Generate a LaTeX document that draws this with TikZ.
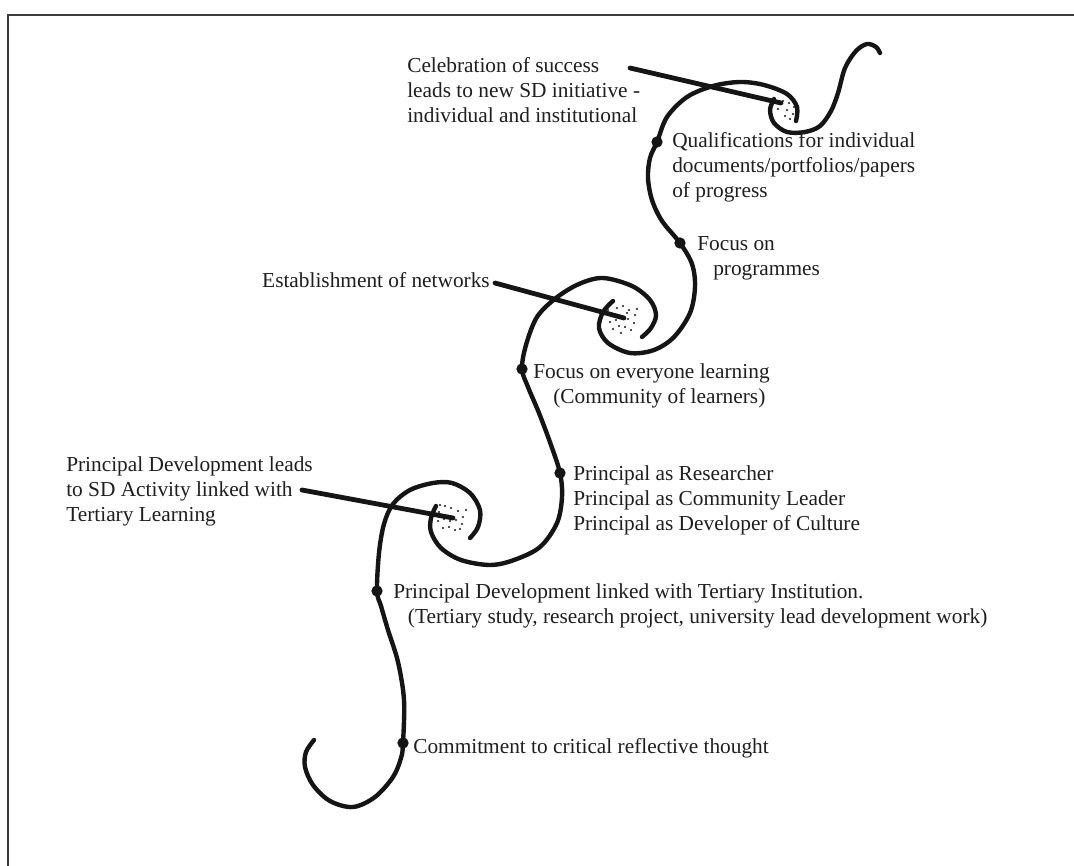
\documentclass[tikz,border=0pt]{standalone}
\usepackage{fontspec}
\setmainfont{Liberation Serif}
\definecolor{ink}{HTML}{151515}
\definecolor{txt}{HTML}{1E1E1E}
\definecolor{framegray}{HTML}{3A3A3A}
\begin{document}
\begin{tikzpicture}[x=0.75pt,y=-0.75pt,
  curve/.style={line width=3.3pt, draw=ink, line cap=round, line join=round},
  pointer/.style={line width=3.6pt, draw=ink, line cap=round},
  dot/.style={circle, fill=ink, inner sep=0pt, minimum size=8.5pt},
  lbl/.style={font=\fontsize{16}{18.75}\selectfont, text=txt, inner sep=0pt, align=left},
  frame/.style={line width=1.9pt, draw=framegray},
  speck/.style={fill=ink}]

\useasboundingbox (0,0) rectangle (1074,866);
\draw[frame] (8,866) -- (8,15) -- (1074,15);

% stations on the path
\coordinate (pC) at (403,743);
\coordinate (pP) at (377,591);
\coordinate (pR) at (560,473);
\coordinate (pE) at (522,369);
\coordinate (pF) at (680,243);
\coordinate (pQ) at (657,142);

% centres of the three spirals
\coordinate (cLow) at (453,518);
\coordinate (cMid) at (624,318);
\coordinate (cTop) at (781,103);

% speckles inside the spirals
\foreach \dx/\dy in {-12/-4,-7/-10,-1/-12,5/-8,11/-3,-14/4,-8/2,-2/-2,4/1,10/5,-11/11,-5/8,1/9,7/12,-3/15,13/-9,-16/-8,3/-5}
  \fill[speck, shift={(cMid)}] (\dx,\dy) circle (0.9pt);
\foreach \dx/\dy in {-14/-6,-8/-12,-2/-10,5/-7,10/-1,-15/3,-9/1,-3/3,3/2,9/6,-10/10,-4/9,2/12,7/11,-13/-13,13/-8}
  \fill[speck, shift={(cLow)}] (\dx,\dy) circle (0.9pt);
\foreach \dx/\dy in {2/-2,8/0,13/4,6/7,12/11,4/13,-3/6,9/16,15/9,0/1}
  \fill[speck, shift={(cTop)}] (\dx,\dy) circle (0.9pt);

% lowest hook, rising into the lower spiral
\draw[curve] plot[smooth, tension=0.55] coordinates {
  (314,740) (306,752) (305,767) (313,785) (330,801) (353,807) (375,797)
  (393,777) (401,758) (pC) (404,700) (398,662) (388,630) (381,606) (pP)
  (379,553) (384,524) (393,504) (410,490) (433,483) (452,483) (470,493)
  (480,510) (478,527) (470,538)};

% from the lower spiral up into the middle spiral
\draw[curve] plot[smooth, tension=0.55] coordinates {
  (436,506) (431,518) (431,532) (441,548) (461,560) (490,565) (514,560)
  (540,547) (557,523) (562,497) (pR) (551,445) (539,413) (528,387) (pE)
  (526,345) (537,317) (556,298) (579,284) (603,278) (632,286) (650,300)
  (656,315) (651,328) (642,337)};

% from the middle spiral up into the upper spiral
\draw[curve] plot[smooth, tension=0.55] coordinates {
  (613,301) (603,312) (599,328) (608,343) (630,353) (654,350) (674,337)
  (690,313) (695,287) (692,264) (pF) (662,221) (652,200) (648,178)
  (650,158) (pQ) (667,117) (687,97) (713,86) (740,82) (764,85) (787,94)
  (797,107) (796,121)};

% tail of the upper spiral
\draw[curve] plot[smooth, tension=0.55] coordinates {
  (774,99) (770,110) (774,123) (787,132) (805,132) (820,126) (831,111)
  (838,93) (845,68) (856,51) (867,44) (876,47) (880,53)};

% stations
\node[dot] (dC) at (pC) {};
\node[dot] (dP) at (pP) {};
\node[dot] (dR) at (pR) {};
\node[dot] (dE) at (pE) {};
\node[dot] (dF) at (pF) {};
\node[dot] (dQ) at (pQ) {};

% labels beside the stations (base anchor = baseline of the last line)
\node[lbl, anchor=base west] (tCommit) at (413,753) {Commitment to critical reflective thought};
\node[lbl, anchor=base west] (tTertiary) at (393,623)
  {Principal Development linked with Tertiary Institution.\\
   \hspace*{11pt}(Tertiary study, research project, university lead development work)};
\node[lbl, anchor=base west] (tRoles) at (573,530)
  {Principal as Researcher\\Principal as Community Leader\\Principal as Developer of Culture};
\node[lbl, anchor=base west] (tEveryone) at (533,403)
  {Focus on everyone learning\\\hspace*{15pt}(Community of learners)};
\node[lbl, anchor=base west] (tProg) at (697,276) {Focus on\\\hspace*{12pt}programmes};
\node[lbl, anchor=base west] (tQual) at (672,198)
  {Qualifications for individual\\documents/portfolios/papers\\of progress};

% labels pointing into the spirals
\node[lbl, anchor=base west] (tLeads) at (66,521)
  {Principal Development leads\\to SD Activity linked with\\Tertiary Learning};
\node[lbl, anchor=base east] (tNet) at (490,287) {Establishment of networks};
\node[lbl, anchor=base west] (tCeleb) at (407,123)
  {Celebration of success\\leads to new SD initiative -\\individual and institutional};

\coordinate (sLeads) at (302,490);
\coordinate (sNet) at (495,283);
\coordinate (sCeleb) at (630,68);
\draw[pointer] (sLeads) -- (cLow);
\draw[pointer] (sNet) -- (cMid);
\draw[pointer] (sCeleb) -- (cTop);
\end{tikzpicture}
\end{document}
